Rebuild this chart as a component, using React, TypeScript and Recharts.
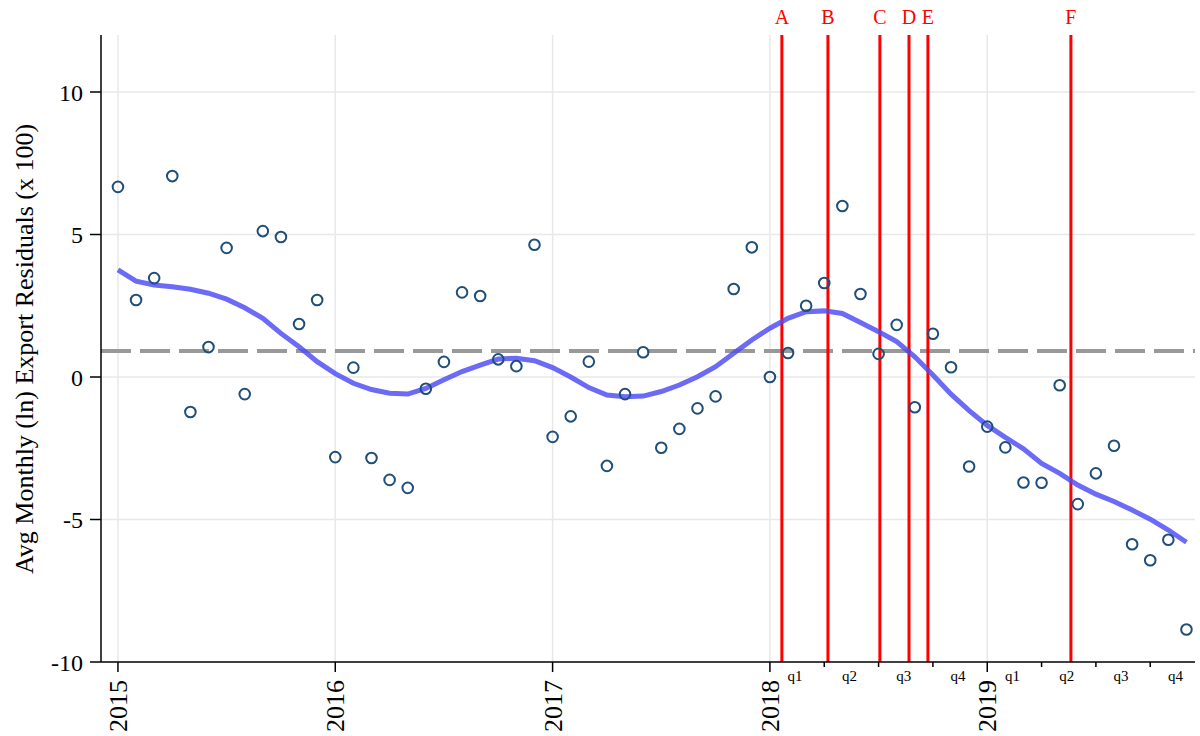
import React from "react";
import {
  ComposedChart,
  Line,
  Scatter,
  XAxis,
  YAxis,
  ReferenceLine,
} from "recharts";

// monthly residuals, Jan 2015 .. Dec 2019
const residuals = [
  6.67, 2.7, 3.47, 7.05, -1.23, 1.05, 4.53, -0.6, 5.12, 4.91, 1.86, 2.7,
  -2.81, 0.33, -2.84, -3.61, -3.89, -0.41, 0.53, 2.97, 2.84, 0.62, 0.38, 4.64,
  -2.1, -1.38, 0.54, -3.12, -0.6, 0.87, -2.48, -1.82, -1.1, -0.68, 3.09, 4.55,
  0.0, 0.84, 2.5, 3.3, 6.0, 2.91, 0.81, 1.83, -1.06, 1.52, 0.34, -3.14,
  -1.74, -2.47, -3.7, -3.71, -0.29, -4.46, -3.38, -2.41, -5.87, -6.43, -5.71, -8.86,
];

// lowess fit
const smooth = [
  3.76, 3.36, 3.23, 3.17, 3.08, 2.94, 2.73, 2.43, 2.06, 1.53, 1.06, 0.54,
  0.12, -0.22, -0.44, -0.57, -0.6, -0.4, -0.1, 0.19, 0.42, 0.63, 0.66, 0.57,
  0.33, 0.0, -0.37, -0.63, -0.69, -0.67, -0.51, -0.28, 0.01, 0.36, 0.83, 1.3,
  1.71, 2.06, 2.29, 2.32, 2.23, 1.91, 1.59, 1.24, 0.71, 0.07, -0.6, -1.18,
  -1.7, -2.12, -2.52, -3.03, -3.38, -3.79, -4.11, -4.37, -4.67, -4.99, -5.37, -5.8,
];

const startYear = 2015;
const meanLevel = 0.91;

const years = [2015, 2016, 2017, 2018, 2019];
const quarterBounds = [2018.25, 2018.5, 2018.75, 2019.25, 2019.5, 2019.75];
const quarterMids = [2018.125, 2018.375, 2018.625, 2018.875, 2019.125, 2019.375, 2019.625, 2019.875];
const quarterNames = ["q1", "q2", "q3", "q4", "q1", "q2", "q3", "q4"];
const yTicks = [-10, -5, 0, 5, 10];

const events = [
  { label: "A", t: 2018.055 },
  { label: "B", t: 2018.267 },
  { label: "C", t: 2018.506 },
  { label: "D", t: 2018.64 },
  { label: "E", t: 2018.727 },
  { label: "F", t: 2019.385 },
];

const data = residuals.map((r, i) => ({
  t: startYear + i / 12,
  resid: r,
  smooth: smooth[i],
}));

const FONT = "'Liberation Serif', 'DejaVu Serif', serif";

const XTick = (props: any) => {
  const { x, y, payload } = props;
  const v = payload.value;
  if (years.includes(v)) {
    return (
      <g>
        <line x1={x} x2={x} y1={y} y2={y + 10} stroke="#000" strokeWidth={1.5} />
        <text
          transform={`translate(${x + 9},${y + 18}) rotate(-90)`}
          textAnchor="end"
          fontSize={26}
          fontFamily={FONT}
          fill="#000"
        >
          {v}
        </text>
      </g>
    );
  }
  if (quarterBounds.includes(v)) {
    return <line x1={x} x2={x} y1={y} y2={y + 5} stroke="#000" strokeWidth={1.5} />;
  }
  const qi = quarterMids.indexOf(v);
  if (qi >= 0) {
    return (
      <text x={x - 2} y={y + 19} textAnchor="middle" fontSize={15} fontFamily={FONT} fill="#000">
        {quarterNames[qi]}
      </text>
    );
  }
  return null;
};

const Dot = (props: any) => {
  const { cx, cy } = props;
  return <circle cx={cx} cy={cy} r={5.3} fill="none" stroke="#1f4e79" strokeWidth={2} />;
};

export default function App() {
  return (
    <div style={{ position: "absolute", left: 0, top: 0, background: "#fff" }}>
      <ComposedChart
        width={1200}
        height={736}
        data={data}
        margin={{ top: 35, right: 5, left: 10, bottom: 0 }}
      >
        <XAxis
          dataKey="t"
          type="number"
          domain={[2014.922, 2019.956]}
          allowDataOverflow
          ticks={[...years, ...quarterBounds, ...quarterMids]}
          interval={0}
          tick={XTick}
          tickLine={false}
          tickSize={0}
          tickMargin={0}
          axisLine={{ stroke: "#000", strokeWidth: 1.5 }}
          height={74}
        />
        <YAxis
          type="number"
          domain={[-10, 12]}
          allowDataOverflow
          ticks={yTicks}
          interval={0}
          width={91}
          tickSize={11}
          tickMargin={7}
          tickLine={{ stroke: "#000", strokeWidth: 1.5 }}
          axisLine={{ stroke: "#000", strokeWidth: 1.5 }}
          tick={{ fontSize: 24, fontFamily: FONT, fill: "#000" }}
          label={{
            content: () => (
              <text
                transform="translate(33,349) rotate(-90)"
                textAnchor="middle"
                fontSize={26}
                fontFamily={FONT}
                fill="#000"
              >
                Avg Monthly (ln) Export Residuals (x 100)
              </text>
            ),
          }}
        />
        {years.map((yr) => (
          <ReferenceLine key={"gx" + yr} x={yr} stroke="#e8e8e8" strokeWidth={1.5} />
        ))}
        {yTicks
          .filter((v) => v > -10)
          .map((v) => (
            <ReferenceLine key={"gy" + v} y={v} stroke="#e8e8e8" strokeWidth={1.5} />
          ))}
        <ReferenceLine
          y={meanLevel}
          stroke="#999999"
          strokeWidth={4}
          strokeDasharray="30 9"
        />
        {events.map((e) => (
          <ReferenceLine
            key={e.label}
            x={e.t}
            stroke="#ff0000"
            strokeWidth={3}
            label={{
              value: e.label,
              position: "top",
              offset: 11,
              fill: "#ff0000",
              fontSize: 20,
              fontFamily: FONT,
            }}
          />
        ))}
        <Scatter dataKey="resid" shape={Dot} isAnimationActive={false} />
        <Line
          type="linear"
          dataKey="smooth"
          stroke="#4b4bf5"
          strokeOpacity={0.82}
          strokeWidth={5}
          dot={false}
          activeDot={false}
          isAnimationActive={false}
        />
      </ComposedChart>
    </div>
  );
}
